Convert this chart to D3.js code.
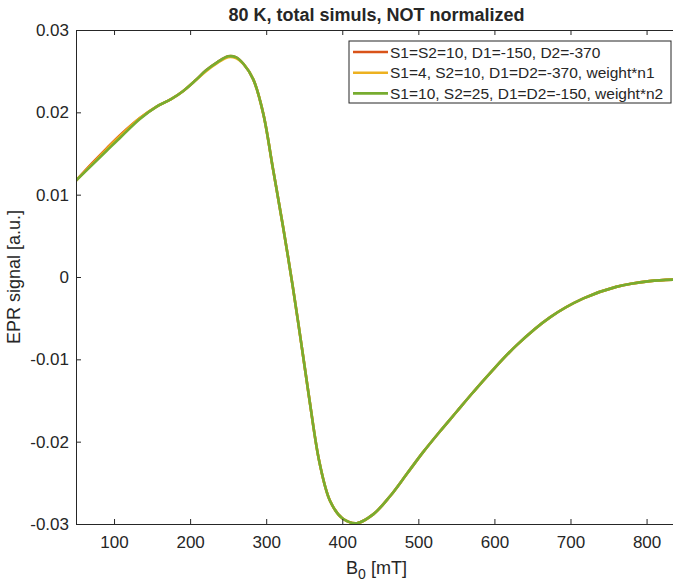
<!DOCTYPE html>
<html>
<head>
<meta charset="utf-8">
<script src="https://cdn.jsdelivr.net/npm/d3@7"></script>
<style>
  body { margin: 0; background: #fff; }
  text { font-family: "Liberation Sans", Arial, sans-serif; fill: #262626; }
</style>
</head>
<body>
<script>
const svgWidth = 673
const svgHeight = 585

const margin = { top: 30, right: -4, bottom: 61, left: 76 }
const chartWidth = svgWidth - margin.left - margin.right
const chartHeight = svgHeight - margin.top - margin.bottom

// data
const field = [50, 70, 90, 110, 134, 156, 175, 191, 206, 221, 236, 250, 260, 270, 283, 296, 309, 322, 335, 346,
  357, 370, 384, 400, 419, 441, 463, 485, 506, 528, 550, 572, 594, 629, 673, 717, 760, 804, 840]

const seriesA = [0.0117, 0.0137, 0.0156, 0.0174, 0.0193, 0.0207, 0.0216, 0.0226, 0.0238, 0.0251, 0.0261, 0.0268, 0.0267, 0.0259, 0.0240, 0.0199, 0.0131, 0.0062, -0.0012, -0.0080,
  -0.0150, -0.0225, -0.0272, -0.0293, -0.0299, -0.0288, -0.0266, -0.0239, -0.0213, -0.0188, -0.0164, -0.0140, -0.0117, -0.0083, -0.0049, -0.0026, -0.0012, -0.0005, -0.0003]
const seriesB = [0.0117, 0.0136, 0.0155, 0.0173, 0.0193, 0.0207, 0.0216, 0.0226, 0.0238, 0.0250, 0.0260, 0.0267, 0.0266, 0.0259, 0.0240, 0.0199, 0.0131, 0.0062, -0.0012, -0.0080,
  -0.0150, -0.0225, -0.0272, -0.0293, -0.0299, -0.0288, -0.0266, -0.0239, -0.0213, -0.0188, -0.0164, -0.0140, -0.0117, -0.0083, -0.0049, -0.0026, -0.0012, -0.0005, -0.0003]
const seriesC = [0.0117, 0.0135, 0.0153, 0.0171, 0.0192, 0.0207, 0.0216, 0.0226, 0.0238, 0.0251, 0.0261, 0.0268, 0.0267, 0.0259, 0.0240, 0.0199, 0.0131, 0.0062, -0.0012, -0.0080,
  -0.0150, -0.0225, -0.0272, -0.0293, -0.0299, -0.0288, -0.0266, -0.0239, -0.0213, -0.0188, -0.0164, -0.0140, -0.0117, -0.0083, -0.0049, -0.0026, -0.0012, -0.0005, -0.0003]

const seriesNames = [
  "S1=S2=10, D1=-150, D2=-370",
  "S1=4, S2=10, D1=D2=-370, weight*n1",
  "S1=10, S2=25, D1=D2=-150, weight*n2"
]
const seriesColors = ["#D95319", "#EDB120", "#77AC30"]

const xTicks = [100, 200, 300, 400, 500, 600, 700, 800]
const yTicks = [-0.03, -0.02, -0.01, 0, 0.01, 0.02, 0.03]

const svg = d3.select("body").append("svg")
  .attr("width", svgWidth)
  .attr("height", svgHeight)

const chartG = svg.append("g")
  .attr("transform", `translate(${margin.left}, ${margin.top})`)

const x = d3.scaleLinear().domain([50, 840]).range([0, chartWidth])
const y = d3.scaleLinear().domain([-0.03, 0.03]).range([chartHeight, 0])

const allSeries = [seriesA, seriesB, seriesC]

const line = d3.line()
  .x((d, i) => x(field[i]))
  .y(d => y(d))
  .curve(d3.curveCatmullRom)

chartG.append("defs").append("clipPath").attr("id", "clip")
  .append("rect").attr("width", chartWidth).attr("height", chartHeight)

chartG.append("g").attr("clip-path", "url(#clip)")
  .selectAll("path")
  .data(allSeries)
  .enter()
  .append("path")
  .attr("d", d => line(d))
  .attr("fill", "none")
  .attr("stroke", (d, i) => seriesColors[i])
  .attr("stroke-width", 2.6)

// axes, matlab style with inward ticks
const fmtY = d => d === 0 ? "0" : d3.format(".2f")(d).replace("\u2212", "-")

const xAxis = d3.axisBottom(x).tickValues(xTicks).tickSizeInner(-5).tickSizeOuter(0).tickPadding(12)
const yAxis = d3.axisLeft(y).tickValues(yTicks).tickSizeInner(-5).tickSizeOuter(0).tickPadding(7).tickFormat(fmtY)

const gx = chartG.append("g")
  .attr("transform", `translate(0, ${chartHeight})`)
  .call(xAxis)
const gy = chartG.append("g").call(yAxis)

chartG.append("g")
  .call(d3.axisTop(x).tickValues(xTicks).tickSizeInner(-5).tickSizeOuter(0).tickFormat(""))

for (const g of [gx, gy]) {
  g.selectAll("text").style("font-size", "17px").attr("fill", "#262626")
}
chartG.selectAll(".domain").attr("stroke", "#262626")
chartG.selectAll(".tick line").attr("stroke", "#262626")

// title and labels
svg.append("text")
  .attr("x", margin.left + chartWidth / 2)
  .attr("y", 21)
  .attr("text-anchor", "middle")
  .style("font-size", "18px")
  .style("font-weight", "bold")
  .attr("fill", "#000")
  .text("80 K, total simuls, NOT normalized")

const xl = svg.append("text")
  .attr("x", margin.left + chartWidth / 2)
  .attr("y", 574)
  .attr("text-anchor", "middle")
  .style("font-size", "18px")
xl.append("tspan").text("B")
xl.append("tspan").attr("dy", 5).style("font-size", "14px").text("0")
xl.append("tspan").attr("dy", -5).text(" [mT]")

svg.append("text")
  .attr("transform", `translate(20, ${margin.top + chartHeight / 2}) rotate(-90)`)
  .attr("text-anchor", "middle")
  .style("font-size", "18px")
  .text("EPR signal [a.u.]")

// legend
const legend = svg.append("g").attr("transform", "translate(349, 41)")
legend.append("rect")
  .attr("width", 322).attr("height", 62)
  .attr("fill", "#fff").attr("stroke", "#262626").attr("stroke-width", 1)

const rows = legend.selectAll("g.row")
  .data(seriesNames)
  .enter()
  .append("g")
  .attr("transform", (d, i) => `translate(0, ${11 + i * 20.7})`)

rows.append("line")
  .attr("x1", 4).attr("x2", 39)
  .attr("stroke", (d, i) => seriesColors[i])
  .attr("stroke-width", 2.6)

rows.append("text")
  .attr("x", 41).attr("y", 5.5)
  .style("font-size", "15.5px")
  .attr("fill", "#000")
  .text(d => d)
</script>
</body>
</html>
